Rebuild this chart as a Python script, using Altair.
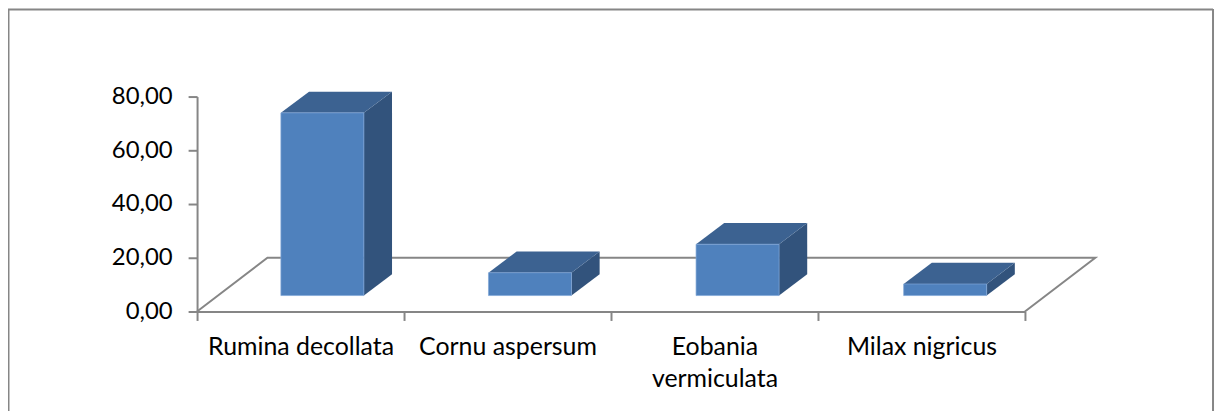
import altair as alt
import pandas as pd

categories = ["Rumina decollata", "Cornu aspersum", "Eobania vermiculata", "Milax nigricus"]
values = [68.0, 8.5, 19.1, 4.3]
y_ticks = [0, 20, 40, 60, 80]

FONT = "Lato"
SIZE = 25
AXIS = "#868686"
FRONT = "#4F81BD"
TOP = "#3C6291"
SIDE = "#32537C"

# 3D projection constants, in data units
FLOOR_DX, FLOOR_DY = 0.34, 20.0
BAR_START, BAR_W = 0.405, 0.401
BAR_BASE = 5.93
BAR_DX, BAR_DY = 0.136, 7.9

xs = alt.Scale(domain=[0, 4], nice=False, zero=False)
ys = alt.Scale(domain=[0, 80], nice=False, zero=False)
y_axis = alt.Axis(values=y_ticks, labelFont=FONT, labelFontSize=24, labelColor="#000000",
                  labelPadding=16, tickSize=9, tickWidth=2, tickColor=AXIS, domainColor=AXIS,
                  domainWidth=2, grid=False, title=None,
                  labelExpr="replace(format(datum.value, '.2f'), '.', ',')")
x_q = lambda f: alt.X(f, type="quantitative", scale=xs, axis=None)
y_q = lambda f: alt.Y(f, type="quantitative", scale=ys, axis=y_axis)

front, top, side = [], [], []
for i, (c, v) in enumerate(zip(categories, values)):
    x0 = i * 1.003 + BAR_START
    x1 = x0 + BAR_W
    yt = BAR_BASE + v
    front.append(dict(c=c, x=x0, x2=x1, y=BAR_BASE, y2=yt))
    top.append(dict(c=c, y=yt, x=x0, x2=x1))
    top.append(dict(c=c, y=yt + BAR_DY, x=x0 + BAR_DX, x2=x1 + BAR_DX))
    side.append(dict(c=c, x=x1, y=BAR_BASE, y2=yt))
    side.append(dict(c=c, x=x1 + BAR_DX, y=BAR_BASE + BAR_DY, y2=yt + BAR_DY))

floor = pd.DataFrame([
    dict(o=0, x=0, y=0),
    dict(o=1, x=FLOOR_DX, y=FLOOR_DY),
    dict(o=2, x=4 + FLOOR_DX, y=FLOOR_DY),
    dict(o=3, x=4, y=0),
])

floor_layer = alt.Chart(floor).mark_line(color=AXIS, strokeWidth=2, clip=False).encode(
    x=x_q("x"), y=y_q("y"), order="o:O"
)

# category axis: band scale with ticks on the band edges
cat_axis = alt.Chart(pd.DataFrame({"c": categories})).mark_point(opacity=0).encode(
    x=alt.X("c:N", sort=categories, title=None,
            scale=alt.Scale(type="band", paddingInner=0, paddingOuter=0),
            axis=alt.Axis(tickBand="extent", labelAngle=0, labelFont=FONT, labelFontSize=SIZE,
                          labelColor="#000000", labelPadding=14, labelLimit=400, labelOverlap=False,
                          labelLineHeight=32, tickSize=9, tickWidth=2, tickColor=AXIS,
                          domainColor=AXIS, domainWidth=2, grid=False,
                          labelExpr="datum.label == 'Eobania vermiculata' ? ['Eobania', 'vermiculata'] : datum.label")),
    y=alt.Y("yy:Q", scale=ys, axis=y_axis),
).transform_calculate(yy="0")

front_layer = alt.Chart(pd.DataFrame(front)).mark_rect(
    color=FRONT, stroke="#7FA6D6", strokeWidth=0.7, clip=False
).encode(x=x_q("x"), x2="x2", y=y_q("y"), y2="y2")

top_layer = alt.Chart(pd.DataFrame(top)).mark_area(
    orient="horizontal", color=TOP, clip=False
).encode(y=y_q("y"), x=x_q("x"), x2="x2", detail="c:N")

side_layer = alt.Chart(pd.DataFrame(side)).mark_area(
    color=SIDE, clip=False
).encode(x=x_q("x"), y=y_q("y"), y2="y2", detail="c:N")

# outer chart frame, in pixels relative to the plot area
PL, PT = 190, 88
PW, PH = 832, 216
frame_top = alt.Chart().mark_rule(color=AXIS, strokeWidth=2).encode(
    x=alt.value(-PL), x2=alt.value(PW + 189), y=alt.value(-PT + 0.5))
frame_left = alt.Chart().mark_rule(color=AXIS, strokeWidth=2).encode(
    x=alt.value(-PL + 0.5), y=alt.value(-PT), y2=alt.value(PH + 100))
frame_right = alt.Chart().mark_rule(color=AXIS, strokeWidth=2).encode(
    x=alt.value(PW + 189), y=alt.value(-PT), y2=alt.value(PH + 100))

chart = alt.layer(
    cat_axis, floor_layer, side_layer, top_layer, front_layer, frame_top, frame_left, frame_right
).resolve_scale(x="independent").properties(
    width=PW, height=PH,
    padding={"left": PL, "top": PT, "right": 192, "bottom": 99},
    autosize=alt.AutoSizeParams(type="none"),
    background="#ffffff",
).configure_view(stroke=None)

chart.save("out.html", embed_options={"renderer": "svg", "actions": False})
